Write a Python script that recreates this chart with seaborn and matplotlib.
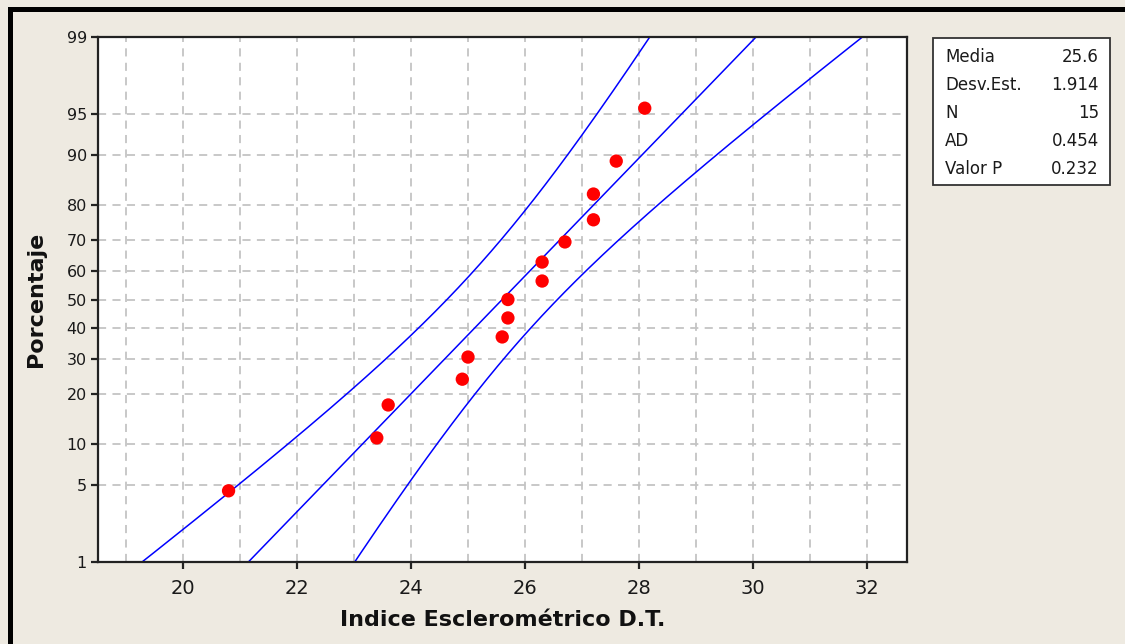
import numpy as np
import pandas as pd
import matplotlib
matplotlib.use("Agg")
import matplotlib.pyplot as plt
import seaborn as sns
from matplotlib.patches import Rectangle
from matplotlib.ticker import FixedLocator, FixedFormatter
from statistics import NormalDist

# ---- data ----
indice = [20.8, 23.4, 23.6, 24.9, 25.0, 25.6, 25.7, 25.7, 26.3, 26.3, 26.7, 27.2, 27.2, 27.6, 28.1]
porcentaje = [4.5, 11.0, 17.5, 24.0, 30.5, 37.0, 43.5, 50.0, 56.5, 63.0, 69.5, 76.0, 82.5, 89.0, 95.5]
stat_labels = ["Media", "Desv.Est.", "N", "AD", "Valor P"]
stat_values = ["25.6", "1.914", "15", "0.454", "0.232"]
media = 25.6
desv = 1.914
n = 15
y_ticks = [1, 5, 10, 20, 30, 40, 50, 60, 70, 80, 90, 95, 99]
x_ticks = [20, 22, 24, 26, 28, 30, 32]

sns.set_theme(style="white")
plt.rcParams["font.family"] = ["DejaVu Sans"]

nd = NormalDist()
_f = np.vectorize(lambda v: nd.inv_cdf(v / 100.0), otypes=[float])
_i = np.vectorize(lambda v: nd.cdf(v) * 100.0, otypes=[float])


def fwd(p):
    p = np.clip(np.asarray(p, dtype=float), 1e-6, 100 - 1e-6)
    return _f(p)


def inv(z):
    return _i(np.asarray(z, dtype=float))


BG = "#EEEAE1"
fig = plt.figure(figsize=(11.25, 6.44), dpi=100, facecolor=BG)
ax = fig.add_axes([98 / 1125, 1 - 562 / 644, (907 - 98) / 1125, (562 - 37) / 644])
ax.set_facecolor("white")
ax.set_yscale("function", functions=(fwd, inv))

# fitted line and 95% confidence bands from the displayed statistics
pgrid = np.linspace(0.5, 99.5, 400)
zg = fwd(pgrid)
xfit = media + desv * zg
se = desv * np.sqrt(1.0 / n + zg ** 2 / (2.0 * n))
lines = pd.DataFrame({
    "x": np.concatenate([xfit, xfit - 1.96 * se, xfit + 1.96 * se]),
    "p": np.concatenate([pgrid, pgrid, pgrid]),
    "curve": ["fit"] * len(pgrid) + ["lo"] * len(pgrid) + ["hi"] * len(pgrid),
})
sns.lineplot(data=lines, x="x", y="p", units="curve", estimator=None, sort=False,
             color="#0000FF", linewidth=1.1, ax=ax, legend=False)

pts = pd.DataFrame({"x": indice, "p": porcentaje})
sns.scatterplot(data=pts, x="x", y="p", color="#FF0000", s=92, edgecolor="none",
                ax=ax, legend=False, zorder=5)

ax.set_xlim(18.51, 32.70)
ax.set_ylim(1, 99)

ax.yaxis.set_major_locator(FixedLocator(y_ticks))
ax.yaxis.set_major_formatter(FixedFormatter([str(t) for t in y_ticks]))
ax.yaxis.set_minor_locator(FixedLocator([]))
ax.xaxis.set_major_locator(FixedLocator(x_ticks))
ax.xaxis.set_minor_locator(FixedLocator([19, 21, 23, 25, 27, 29, 31]))

grid_kw = dict(color="#C4C4C4", linestyle=(0, (4.5, 3.5)), linewidth=1.3)
ax.grid(True, which="major", axis="both", **grid_kw)
ax.grid(True, which="minor", axis="x", **grid_kw)
ax.set_axisbelow(True)

for s in ax.spines.values():
    s.set_color("#222222")
    s.set_linewidth(1.6)

ax.tick_params(axis="both", which="major", direction="out", length=5, width=1.6,
               color="#222222", left=True, bottom=True)
ax.tick_params(axis="x", which="minor", length=0)
ax.tick_params(axis="x", labelsize=14, labelcolor="#1a1a1a", pad=7)
ax.tick_params(axis="y", labelsize=11.5, labelcolor="#1a1a1a", pad=3)

ax.set_xlabel("Indice Esclerométrico D.T.", fontsize=16, fontweight="bold",
              color="#111111", labelpad=9)
ax.set_ylabel("Porcentaje", fontsize=16, fontweight="bold", color="#111111", labelpad=15)

# statistics box
def px(x, y):
    return x / 1125, 1 - y / 644

x0, y0 = px(933, 185)
fig.patches.append(Rectangle((x0, y0), 177 / 1125, 147 / 644, transform=fig.transFigure,
                             facecolor="white", edgecolor="#333333", linewidth=1.3, zorder=3))
for i, (lab, val) in enumerate(zip(stat_labels, stat_values)):
    yy = 57 + i * 28
    fig.text(*px(945, yy), lab, fontsize=12, color="#1a1a1a", ha="left", va="center", zorder=4)
    fig.text(*px(1099, yy), val, fontsize=12, color="#1a1a1a", ha="right", va="center", zorder=4)

# outer black frame (top and left edges visible)
fig.patches.append(Rectangle((8 / 1125, 0), 5 / 1125, 1 - 7 / 644, transform=fig.transFigure,
                             facecolor="black", edgecolor="none", zorder=10))
fig.patches.append(Rectangle((8 / 1125, 1 - 12 / 644), 1 - 8 / 1125, 5 / 644, transform=fig.transFigure,
                             facecolor="black", edgecolor="none", zorder=10))

fig.savefig("out.png", dpi=100, facecolor=BG)
